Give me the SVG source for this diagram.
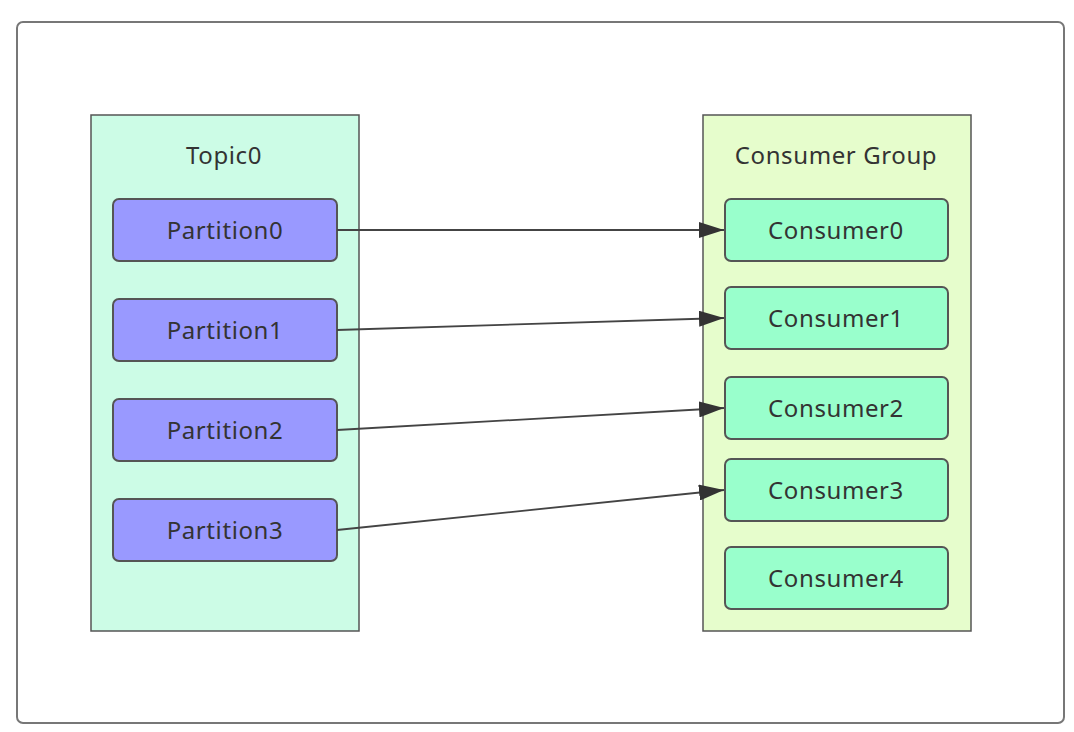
<svg xmlns="http://www.w3.org/2000/svg" width="1074" height="732" viewBox="0 0 1074 732">
<style>
text{font-family:"Noto Sans","Liberation Sans",Arial,sans-serif;font-size:24px;letter-spacing:0.6px;fill:#333;text-anchor:middle;dominant-baseline:central}
.frame{fill:#fff;stroke:#777;stroke-width:2}
.group{stroke:#555;stroke-width:1.5}
.part{fill:#9999ff;stroke:#555;stroke-width:2}
.cons{fill:#99ffcc;stroke:#555;stroke-width:2}
.edge{stroke:#444;stroke-width:1.8;fill:none;marker-end:url(#arr)}
</style>
<defs>
<marker id="arr" viewBox="0 0 25 16" refX="25" refY="8" markerWidth="25" markerHeight="16" markerUnits="userSpaceOnUse" orient="auto">
<path d="M0,0 L25,8 L0,16 z" fill="#333"/>
</marker>
</defs>
<rect width="1074" height="732" fill="#fff"/>
<rect class="frame" x="17" y="22" width="1047" height="701" rx="6"/>
<g id="topic0">
<rect class="group" x="91" y="115" width="268" height="516" fill="#ccfce6"/>
<text x="224" y="154">Topic0</text>
</g>
<g id="consumer-group">
<rect class="group" x="703" y="115" width="268" height="516" fill="#e6fdcc"/>
<text x="836" y="154">Consumer Group</text>
</g>
<g id="partition0"><rect class="part" x="113" y="199" width="224" height="62" rx="6"/><text x="225" y="229">Partition0</text></g>
<g id="partition1"><rect class="part" x="113" y="299" width="224" height="62" rx="6"/><text x="225" y="329">Partition1</text></g>
<g id="partition2"><rect class="part" x="113" y="399" width="224" height="62" rx="6"/><text x="225" y="429">Partition2</text></g>
<g id="partition3"><rect class="part" x="113" y="499" width="224" height="62" rx="6"/><text x="225" y="529">Partition3</text></g>
<g id="consumer0"><rect class="cons" x="725" y="199" width="223" height="62" rx="6"/><text x="836" y="229">Consumer0</text></g>
<g id="consumer1"><rect class="cons" x="725" y="287" width="223" height="62" rx="6"/><text x="836" y="317">Consumer1</text></g>
<g id="consumer2"><rect class="cons" x="725" y="377" width="223" height="62" rx="6"/><text x="836" y="407">Consumer2</text></g>
<g id="consumer3"><rect class="cons" x="725" y="459" width="223" height="62" rx="6"/><text x="836" y="489">Consumer3</text></g>
<g id="consumer4"><rect class="cons" x="725" y="547" width="223" height="62" rx="6"/><text x="836" y="577">Consumer4</text></g>
<g id="connectors">
<line class="edge" x1="337" y1="230" x2="724" y2="230"/>
<line class="edge" x1="337" y1="330" x2="724" y2="318"/>
<line class="edge" x1="337" y1="430" x2="724" y2="408"/>
<line class="edge" x1="337" y1="530" x2="724" y2="490"/>
</g>
</svg>
